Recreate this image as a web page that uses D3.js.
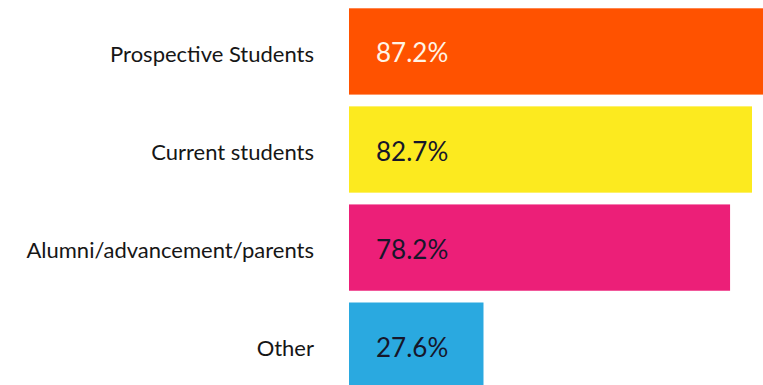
<!DOCTYPE html>
<html>
<head>
<meta charset="utf-8">
<script src="https://cdn.jsdelivr.net/npm/d3@7"></script>
<style>
  html, body { margin: 0; padding: 0; background: #fff; overflow: hidden; }
  svg { display: block; }
</style>
</head>
<body>
<svg id="chart" width="763" height="385"></svg>
<script>
// Audiences served, share of respondents (%)
const categories = ["Prospective Students", "Current students", "Alumni/advancement/parents", "Other"];
const values = [87.2, 82.7, 78.2, 27.6];
const barColors = ["#FF5200", "#FCEA1F", "#EC1F78", "#2AA9E0"];
const valueTextColors = ["#FFF4E6", "#16162a", "#16162a", "#16162a"];

const svg = d3.select("#chart");

const x = d3.scaleLinear().domain([0, 100]).range([349, 349 + 487.3]);
const y = d3.scaleBand().domain(categories).range([8.3, 388.8]).paddingInner(0.12).paddingOuter(0);

const rows = svg.selectAll("g.row")
  .data(categories.map((c, i) => ({ c, v: values[i], i })))
  .join("g")
  .attr("class", "row");

rows.append("rect")
  .attr("x", x(0))
  .attr("y", d => y(d.c))
  .attr("width", d => x(d.v) - x(0))
  .attr("height", y.bandwidth())
  .attr("fill", d => barColors[d.i]);

rows.append("text")
  .attr("x", x(0) + 27)
  .attr("y", d => y(d.c) + y.bandwidth() / 2 + 11)
  .attr("font-family", "Lato, sans-serif")
  .attr("font-size", 26)
  .attr("fill", d => valueTextColors[d.i])
  .text(d => d.v.toFixed(1) + "%");

// Category labels on the left, right-aligned against the bars
const yAxis = d3.axisLeft(y).tickSize(0).tickPadding(35);
const axisG = svg.append("g")
  .attr("transform", `translate(${x(0)},0)`)
  .call(yAxis);
axisG.select(".domain").remove();
axisG.selectAll("text")
  .attr("font-family", "Lato, sans-serif")
  .attr("font-size", 22)
  .attr("fill", "#161616")
  .attr("dy", "0.47em");
</script>
</body>
</html>
